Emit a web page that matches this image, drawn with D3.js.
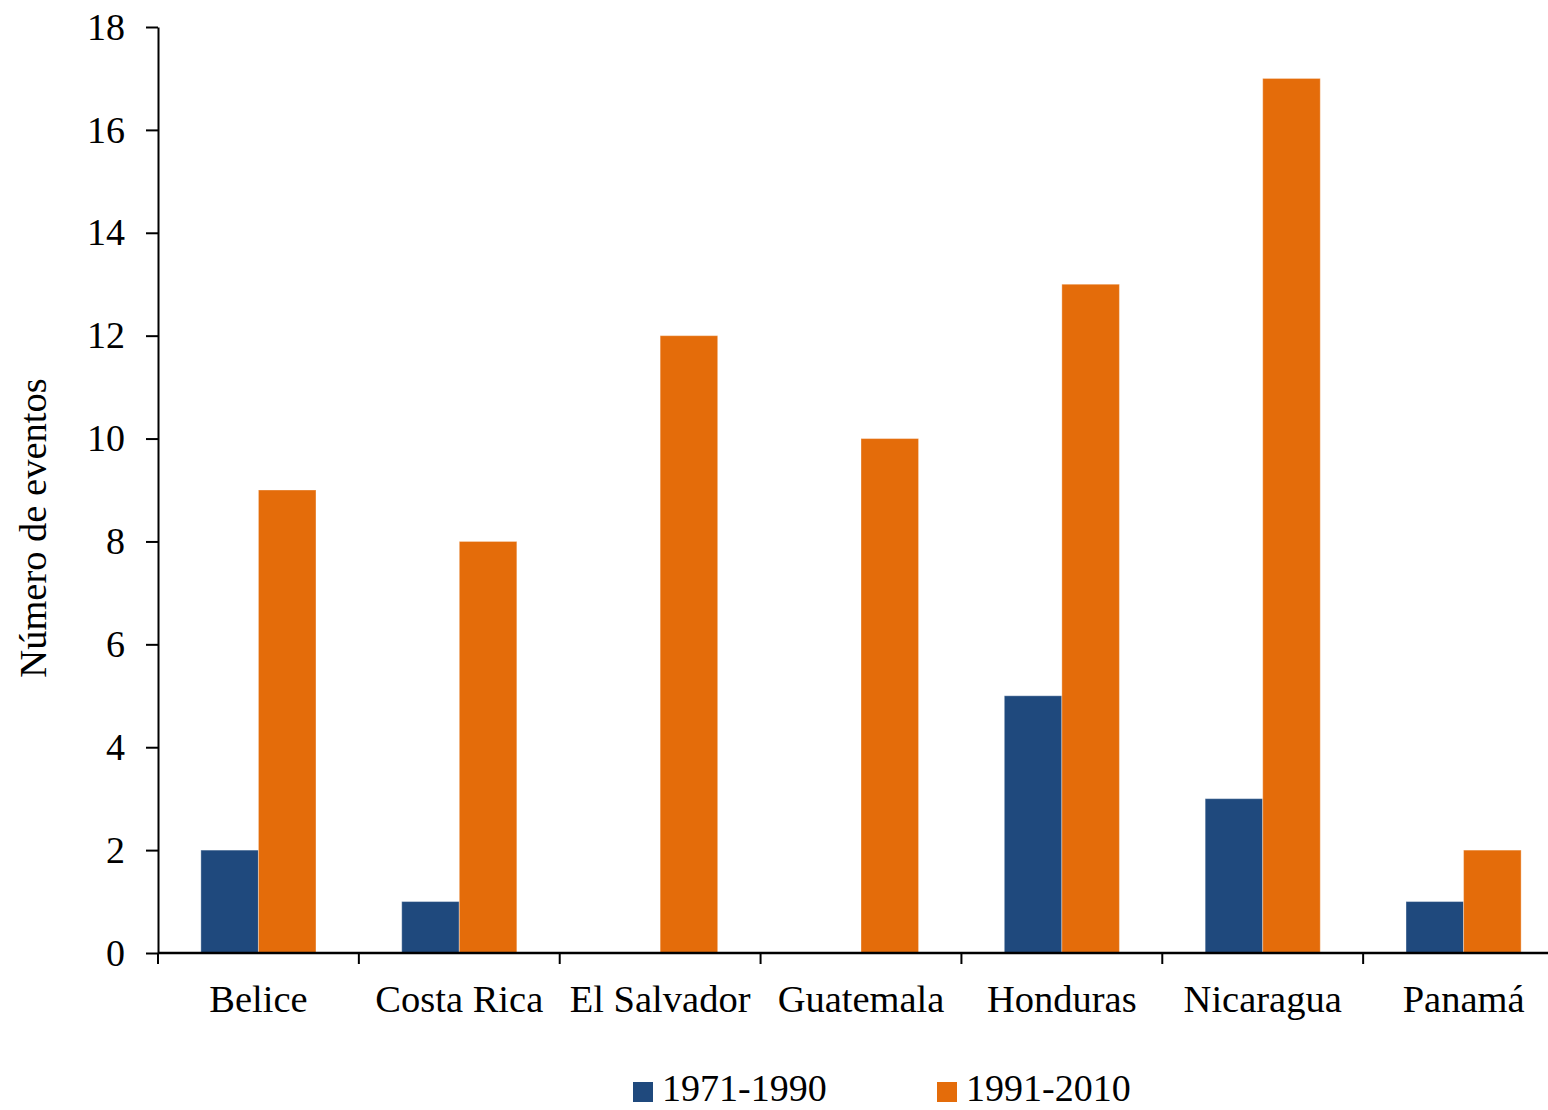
<!DOCTYPE html>
<html>
<head>
<meta charset="utf-8">
<script src="https://cdn.jsdelivr.net/npm/d3@7"></script>
<style>
  html, body { margin: 0; padding: 0; background: #fff; }
  svg { display: block; font-family: "Liberation Serif", "Times New Roman", serif; }
</style>
</head>
<body>
<svg id="chart" width="1548" height="1110"></svg>
<script>
// Number of events per country, two periods
const countries = ["Belice", "Costa Rica", "El Salvador", "Guatemala", "Honduras", "Nicaragua", "Panamá"];
const series = ["1971-1990", "1991-2010"];
const values1971 = [2, 1, 0, 0, 5, 3, 1];
const values1991 = [9, 8, 12, 10, 13, 17, 2];
const yTicks = [0, 2, 4, 6, 8, 10, 12, 14, 16, 18];
const colors = ["#1F497D", "#E46C0A"];

const svg = d3.select("#chart");

const plot = { left: 158, right: 1564, top: 27, bottom: 953 };

const x = d3.scaleBand().domain(countries).range([plot.left, plot.right]).paddingInner(0).paddingOuter(0);
const inner = d3.scaleBand().domain(series).range([0, x.bandwidth()]).paddingInner(0).paddingOuter(0.745);
const y = d3.scaleLinear().domain([0, 18]).range([plot.bottom, plot.top]);

const rows = countries.map((c, i) => ({ country: c, vals: [values1971[i], values1991[i]] }));

// bars
const groups = svg.append("g").selectAll("g").data(rows).join("g")
  .attr("transform", d => `translate(${x(d.country)},0)`);

groups.selectAll("rect")
  .data(d => d.vals.map((v, k) => ({ key: series[k], v, k })).filter(d => d.v > 0))
  .join("rect")
  .attr("x", d => inner(d.key))
  .attr("width", inner.bandwidth())
  .attr("y", d => y(d.v))
  .attr("height", d => y(0) - y(d.v))
  .attr("fill", d => colors[d.k])
  .attr("stroke", "#ffffff")
  .attr("stroke-opacity", 0.35)
  .attr("stroke-width", 1);

// y axis
const yAxis = svg.append("g")
  .attr("transform", `translate(${plot.left},0)`)
  .call(d3.axisLeft(y).tickValues(yTicks).tickSize(12).tickPadding(21).tickSizeOuter(0));
yAxis.select(".domain").attr("stroke", "#000").attr("stroke-width", 2);
yAxis.selectAll(".tick line").attr("stroke", "#000").attr("stroke-width", 2);
yAxis.selectAll(".tick text")
  .attr("font-size", 38).attr("fill", "#000")
  .attr("font-family", "Liberation Serif, serif");

// x axis: ticks at category boundaries
const xAxisG = svg.append("g").attr("transform", `translate(0,${plot.bottom})`);
xAxisG.append("line")
  .attr("x1", plot.left).attr("x2", plot.right)
  .attr("stroke", "#000").attr("stroke-width", 2.5);
xAxisG.selectAll("line.bound")
  .data(countries)
  .join("line")
  .attr("class", "bound")
  .attr("x1", d => x(d)).attr("x2", d => x(d))
  .attr("y1", 0).attr("y2", 11)
  .attr("stroke", "#000").attr("stroke-width", 2);
xAxisG.selectAll("text")
  .data(countries)
  .join("text")
  .attr("x", d => x(d) + x.bandwidth() / 2)
  .attr("y", 59)
  .attr("text-anchor", "middle")
  .attr("font-size", 38.5)
  .attr("fill", "#000")
  .text(d => d);

// y axis title
svg.append("text")
  .attr("transform", `translate(46,528) rotate(-90)`)
  .attr("text-anchor", "middle")
  .attr("font-size", 38.5)
  .attr("fill", "#000")
  .text("Número de eventos");

// legend
const legendX = [633, 937];
const legend = svg.append("g").selectAll("g").data(series).join("g")
  .attr("transform", (d, i) => `translate(${legendX[i]},1082)`);
legend.append("rect")
  .attr("width", 20).attr("height", 20)
  .attr("fill", (d, i) => colors[i]);
legend.append("text")
  .attr("x", 29).attr("y", 19)
  .attr("font-size", 38)
  .attr("fill", "#000")
  .text(d => d);
</script>
</body>
</html>
